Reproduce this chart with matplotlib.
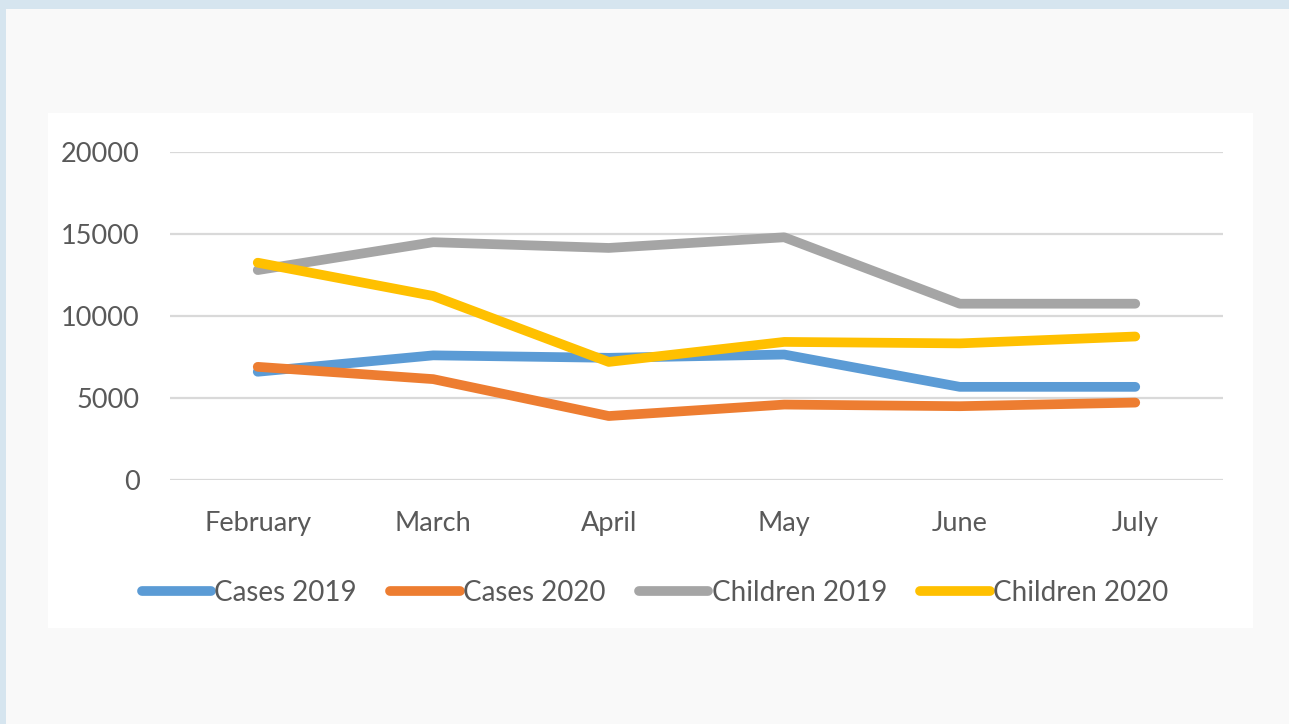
import matplotlib.pyplot as plt
from matplotlib.patches import Rectangle

months = ["February", "March", "April", "May", "June", "July"]
cases_2019 = [6600, 7600, 7450, 7650, 5680, 5680]
cases_2020 = [6900, 6150, 3900, 4600, 4500, 4720]
children_2019 = [12800, 14500, 14150, 14800, 10750, 10750]
children_2020 = [13250, 11220, 7200, 8420, 8330, 8750]
yticks = [0, 5000, 10000, 15000, 20000]

plt.rcParams['font.family'] = ['Lato', 'DejaVu Sans']
textcol = "#595959"

fig = plt.figure(figsize=(12.89, 7.24), dpi=100, facecolor="#d6e5ef")
W, H = 1289, 724
# grey page and white chart panel, kept behind the axes
fig.patches.append(Rectangle((6 / W, 0), 1, 1 - 9 / H, transform=fig.transFigure,
                             facecolor="#f9f9f9", edgecolor="none", zorder=-2))
fig.patches.append(Rectangle((48 / W, 1 - 628 / H), (1253 - 48) / W, (628 - 113) / H,
                             transform=fig.transFigure, facecolor="white",
                             edgecolor="none", zorder=-1))

ax = fig.add_axes([170 / W, 1 - 480 / H, 1053 / W, 328 / H])
ax.set_facecolor("none")
x = range(len(months))
series = [(cases_2019, "Cases 2019", "#5b9bd5"),
          (cases_2020, "Cases 2020", "#ed7d31"),
          (children_2019, "Children 2019", "#a5a5a5"),
          (children_2020, "Children 2020", "#ffc000")]
for vals, lab, col in series:
    ax.plot(x, vals, color=col, lw=7, label=lab, solid_capstyle="round",
            solid_joinstyle="round", zorder=3)

ax.set_xlim(-0.5, len(months) - 0.5)
ax.set_ylim(0, 20000)
ax.set_yticks(yticks)
ax.set_yticklabels([str(v) for v in yticks])
ax.set_xticks(list(x))
ax.set_xticklabels(months)
ax.grid(axis="y", color="#d9d9d9", lw=1.6, zorder=1)
ax.tick_params(axis="both", length=0, labelsize=19.5, labelcolor=textcol)
ax.tick_params(axis="y", pad=22)
ax.tick_params(axis="x", pad=22)
for s in ax.spines.values():
    s.set_visible(False)

leg = fig.legend(loc="center", bbox_to_anchor=(655 / W, 1 - 593 / H), ncol=4,
                 frameon=False, fontsize=20, handlelength=2.5, handletextpad=0.12,
                 columnspacing=1.2)
for t in leg.get_texts():
    t.set_color(textcol)

fig.savefig("out.png", dpi=100, facecolor=fig.get_facecolor())
